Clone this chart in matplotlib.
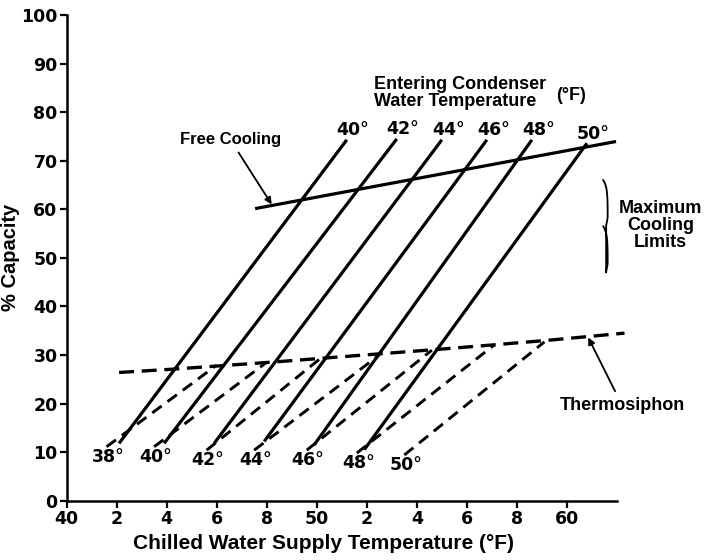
import numpy as np
import matplotlib
matplotlib.use("Agg")
import matplotlib.pyplot as plt

plt.rcParams['font.family'] = ['Liberation Sans', 'DejaVu Sans']
plt.rcParams['font.weight'] = 'bold'
NUM_FONT = ['DejaVu Sans']

# chiller lines, labelled at top by entering condenser water temp
cond_temps = [40, 42, 44, 46, 48, 50]
chill_x0 = [42.1, 43.9, 45.9, 47.9, 49.9, 51.9]
chill_y0 = [11.8, 11.8, 11.8, 12.2, 11.5, 10.5]
chill_x1 = [51.2, 53.2, 55.0, 56.8, 58.6, 60.8]
chill_y1 = [74.3, 74.5, 74.3, 74.3, 74.3, 73.6]

# free cooling limit
free_x = [47.6, 61.9]
free_y = [60.2, 73.9]

# thermosiphon lines, labelled at bottom
siphon_temps = [38, 40, 42, 44, 46, 48, 50]
siphon_x0 = [41.6, 43.5, 45.6, 47.5, 49.6, 51.6, 53.5]
siphon_y0 = [11.1, 11.1, 10.4, 10.4, 10.4, 9.8, 9.4]
siphon_x1 = [46.0, 48.0, 50.1, 52.5, 54.6, 57.1, 59.1]
siphon_y1 = [27.9, 28.5, 29.1, 30.0, 31.0, 32.1, 32.7]

# thermosiphon limit
limit_x = [42.1, 44.3, 48.4, 51.4, 54.7, 57.1, 59.4, 62.3]
limit_y = [26.4, 27.1, 28.6, 29.8, 31.1, 32.1, 33.1, 34.5]

xticks = list(range(40, 61, 2))
xtick_labels = ['40', '2', '4', '6', '8', '50', '2', '4', '6', '8', '60']
yticks = list(range(0, 101, 10))


def brace(ax, x, y0, y1, w):
    # thin curly brace, ends curl to the left
    u = np.linspace(0, 1, 80)
    half = w * (1 - np.exp(-u / 0.15)) - 0.35 * w * np.exp(-((1 - u) / 0.12) ** 2)
    ym = (y0 + y1) / 2.0
    ys = np.concatenate([y1 - u * (y1 - ym), ym - u[::-1] * (ym - y0)])
    xs = np.concatenate([x + half, x + half[::-1]])
    ax.plot(xs, ys, color='black', lw=1.3, clip_on=False)


fig = plt.figure(figsize=(7.04, 5.6), dpi=100)
ax = fig.add_axes([0.0945, 0.1059, 0.7819, 0.8673])

for t, a, b, c, d in zip(cond_temps, chill_x0, chill_y0, chill_x1, chill_y1):
    ax.plot([a, c], [b, d], color='black', lw=2.3, solid_capstyle='butt')
    ax.annotate(f'{t}°', (c, d), xytext=(4.5, 7), textcoords='offset points',
                ha='center', va='center', fontsize=12.5, fontweight='bold',
                family=NUM_FONT)

ax.plot(free_x, free_y, color='black', lw=2.3)

for t, a, b, c, d in zip(siphon_temps, siphon_x0, siphon_y0, siphon_x1, siphon_y1):
    ax.plot([a, c], [b, d], color='black', lw=2.1, dashes=(4, 2.5))
    ax.annotate(f'{t}°', (a, b), xytext=(1, -7), textcoords='offset points',
                ha='center', va='center', fontsize=12.5, fontweight='bold',
                family=NUM_FONT)

ax.plot(limit_x, limit_y, color='black', lw=2.4, dashes=(4.5, 2.3),
        clip_on=False)

arrow = dict(arrowstyle='-|>', color='black', lw=1.3, mutation_scale=10,
             shrinkA=2, shrinkB=0)
ax.annotate('Free Cooling', xy=(48.2, 61.0), xytext=(46.55, 74.3),
            ha='center', va='center', fontsize=12, fontweight='bold',
            arrowprops=arrow)
ax.annotate('Thermosiphon', xy=(60.85, 33.6), xytext=(62.2, 19.7),
            ha='center', va='center', fontsize=13, fontweight='bold',
            arrowprops=arrow, annotation_clip=False)

ax.text(52.27, 84.0, 'Entering Condenser\nWater Temperature', ha='left',
        va='center', fontsize=13, fontweight='bold', linespacing=1.0)
ax.text(59.55, 83.5, '(°F)', ha='left', va='center', fontsize=13,
        fontweight='bold')
ax.text(63.75, 56.6, 'Maximum\nCooling\nLimits', ha='center', va='center',
        multialignment='center', fontsize=13, fontweight='bold',
        linespacing=1.0, clip_on=False)
brace(ax, 61.45, 47.0, 66.0, 0.18)

ax.set_xlim(40, 62.0)
ax.set_ylim(0, 100)
ax.set_xticks(xticks)
ax.set_xticklabels(xtick_labels)
ax.set_yticks(yticks)

for side in ['top', 'right']:
    ax.spines[side].set_visible(False)
for side in ['left', 'bottom']:
    ax.spines[side].set_linewidth(1.8)

ax.tick_params(direction='out', length=5, width=1.6, labelsize=12.5)
ax.tick_params(axis='y', pad=1.5)
ax.tick_params(axis='x', pad=2)
for lab in ax.get_xticklabels() + ax.get_yticklabels():
    lab.set_fontweight('bold')
    lab.set_family(NUM_FONT)

ax.set_xlabel('Chilled Water Supply Temperature (°F)', fontsize=15,
              fontweight='bold')
ax.xaxis.set_label_coords(0.466, -0.069)
ax.set_ylabel('% Capacity', fontsize=14.5, fontweight='bold')
ax.yaxis.set_label_coords(-0.085, 0.5)

fig.savefig('out.png', dpi=100)
